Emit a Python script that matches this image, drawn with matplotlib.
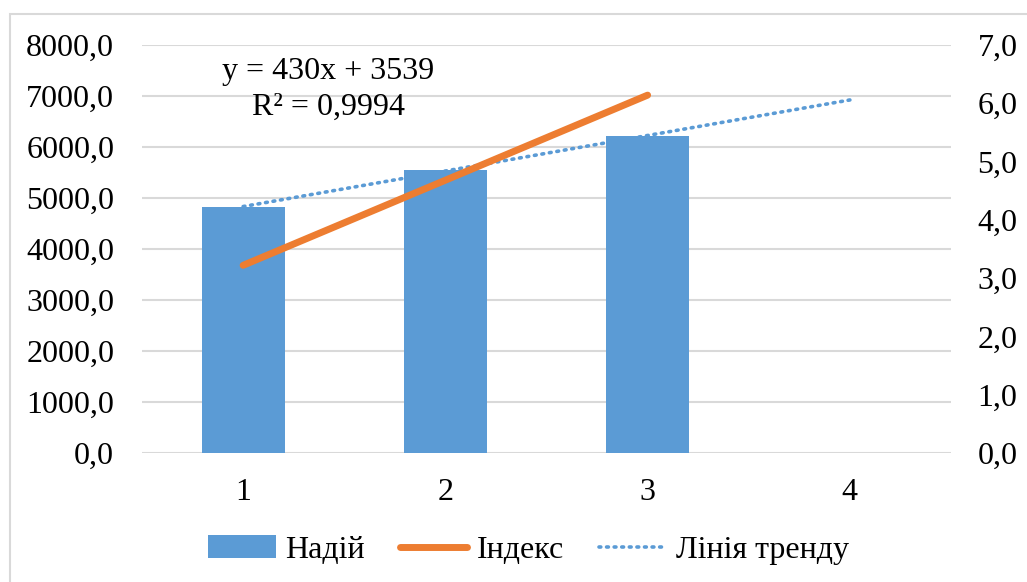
import numpy as np
import matplotlib
matplotlib.use("Agg")
import matplotlib.pyplot as plt
from matplotlib.patches import Rectangle

categories = [1, 2, 3, 4]
nadiy = [4823, 5549, 6216]          # bars (left axis)
index_vals = [3.22, 4.68, 6.14]     # orange line (right axis)
left_ticks = [0, 1000, 2000, 3000, 4000, 5000, 6000, 7000, 8000]
right_ticks = [0, 1, 2, 3, 4, 5, 6, 7]
eq_text = "y = 430x + 3539\nR² = 0,9994"
legend_labels = ["Надій", "Індекс", "Лінія тренду"]

serif = ['Liberation Serif', 'DejaVu Serif']
plt.rcParams['font.family'] = serif
FS = 23

fig = plt.figure(figsize=(10.27, 5.82), dpi=100)
ax = fig.add_axes([142/1027, 1 - 453/582, (951-142)/1027, (453-45)/582])
ax2 = ax.twinx()

blue = '#5b9bd5'
orange = '#ed7d31'

xb = np.array(categories[:len(nadiy)])
bars = ax.bar(xb, nadiy, width=0.41, color=blue, zorder=2, label=legend_labels[0])

# linear trendline fitted to the bar series, extended one period forward
coef = np.polyfit(xb, nadiy, 1)
xt = np.array([categories[0], categories[-1]])
tr, = ax.plot(xt, np.polyval(coef, xt), linestyle=(0, (0.5, 1.6)), color=blue,
              linewidth=2.6, dash_capstyle='round', zorder=3, label=legend_labels[2])

ln, = ax2.plot(xb, index_vals, color=orange, linewidth=5, solid_capstyle='round',
               zorder=4, label=legend_labels[1])

ax.set_xlim(0.5, 4.5)
ax.set_ylim(0, 8000)
ax2.set_ylim(0, 7)
ax.set_xticks(categories)
ax.set_xticklabels([str(c) for c in categories])
ax.set_yticks(left_ticks)
ax.set_yticklabels([f"{v:.1f}".replace('.', ',') for v in left_ticks])
ax2.set_yticks(right_ticks)
ax2.set_yticklabels([f"{v:.1f}".replace('.', ',') for v in right_ticks])

ax.grid(axis='y', color='#d9d9d9', linewidth=1.5, zorder=0)
ax.set_axisbelow(True)
for a in (ax, ax2):
    for s in a.spines.values():
        s.set_visible(False)
    a.tick_params(length=0, labelsize=FS, colors='#000000')
ax.tick_params(axis='y', pad=20)
ax.tick_params(axis='x', pad=18)
ax2.tick_params(axis='y', pad=19)

ax.text(1.42, 7130, eq_text, ha='center', va='center', fontsize=FS, linespacing=1.3, zorder=5)

leg = fig.legend([bars, ln, tr], legend_labels, loc='center', bbox_to_anchor=(0.5146, 1 - 550/582),
                 ncol=3, frameon=False, prop={'family': 'Liberation Serif', 'size': FS},
                 handlelength=2.1, handletextpad=0.3, columnspacing=1.1)

fig.patches.append(Rectangle((10/1027, -0.1), 1.2, 1 - 14/582 + 0.1, transform=fig.transFigure,
                             fill=False, edgecolor='#d9d9d9', linewidth=1.5))

fig.savefig("out.png", dpi=100)
